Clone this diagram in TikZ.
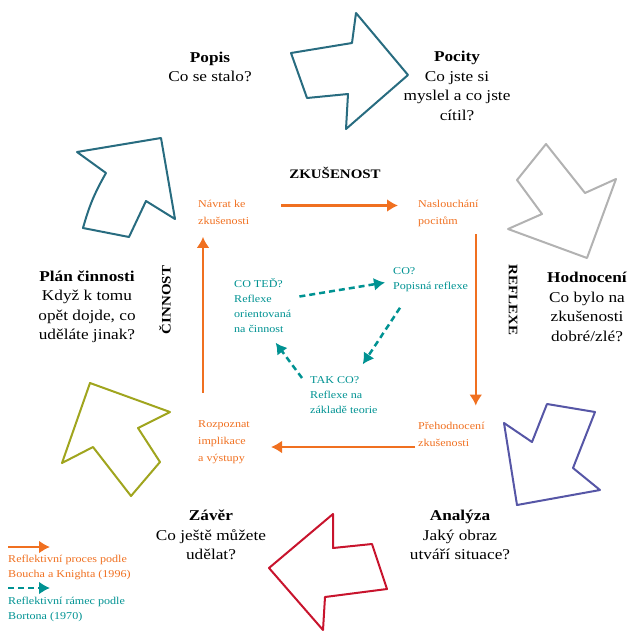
\documentclass[tikz,border=0pt]{standalone}
\usepackage{fontspec}
\setmainfont{Liberation Serif}[FakeStretch=1.15]
\newfontfamily\smallfont{Liberation Serif}[FakeStretch=1.15]
\usetikzlibrary{arrows.meta, calc, positioning}

\definecolor{procorange}{RGB}{240,112,32}
\definecolor{frameteal}{RGB}{0,146,146}
\definecolor{cycleteal}{RGB}{40,108,128}
\definecolor{cyclegray}{RGB}{178,178,178}
\definecolor{cyclepurple}{RGB}{86,86,166}
\definecolor{cyclered}{RGB}{200,20,45}
\definecolor{cycleolive}{RGB}{160,165,30}

\begin{document}
\begin{tikzpicture}[x=1pt, y=-1pt, >={Latex[length=11pt,width=13pt]},
    stage/.style={align=center, inner sep=0pt, font=\fontsize{15}{19.5}\selectfont},
    phase/.style={inner sep=0pt, font=\fontsize{13}{15}\selectfont\bfseries},
    proctext/.style={align=left, anchor=west, inner sep=0pt, text=procorange, font=\smallfont\fontsize{10.5}{17}\selectfont},
    frametext/.style={align=left, anchor=west, inner sep=0pt, text=frameteal, font=\smallfont\fontsize{10.5}{15}\selectfont},
    proc/.style={->, draw=procorange, line width=2.5pt},
    framearr/.style={->, draw=frameteal, line width=2.5pt, dash pattern=on 6pt off 4pt},
    bigarrow/.style={line width=2pt, line join=round}]
    \useasboundingbox (0,0) rectangle (631,630);

    % the six big outline arrows
    \draw[bigarrow, cycleteal] (356,13) -- (408,75) -- (346,129) -- (348,94) -- (307,98) -- (291,53) -- (352,43) -- cycle;
    \draw[bigarrow, cyclegray] (546,144) -- (585,193) -- (616,179) -- (587,258) -- (508,229) -- (542,214) -- (517,180) -- cycle;
    \draw[bigarrow, cyclepurple] (547,404) -- (595,412) -- (573,468) -- (600,490) -- (517,505) -- (504,423) -- (532,442) -- cycle;
    \draw[bigarrow, cyclered] (333,514) -- (333,548) -- (372,544) -- (387,589) -- (325,597) -- (323,630) -- (269,568) -- cycle;
    \draw[bigarrow, cycleolive] (90,383) -- (170,412) -- (138,428) -- (160,462) -- (131,496) -- (93,447) -- (62,463) -- cycle;
    \draw[bigarrow, cycleteal] (77,152) -- (161,138) -- (175,219) -- (146,201) -- (129,237) -- (83,228) to[bend left=7] (106,173) -- cycle;

    % stages of the cycle
    \node[stage] (popis) at (210,67) {\textbf{Popis}\\Co se stalo?};
    \node[stage] (pocity) at (457,86) {\textbf{Pocity}\\Co jste si\\myslel a co jste\\cítil?};
    \node[stage] (hodnoceni) at (587,307) {\textbf{Hodnocení}\\Co bylo na\\zkušenosti\\dobré/zlé?};
    \node[stage] (analyza) at (460,535) {\textbf{Analýza}\\Jaký obraz\\utváří situace?};
    \node[stage] (zaver) at (211,535) {\textbf{Závěr}\\Co ještě můžete\\udělat?};
    \node[stage] (plan) at (87,307) {\textbf{Plán činnosti}\\Když k tomu\\opět dojde, co\\uděláte jinak?};

    \node[phase] (zkusenost) at (335,173) {ZKUŠENOST};
    \node[phase, rotate=-90] (reflexe) at (513,300) {REFLEXE};
    \node[phase, rotate=90] (cinnost) at (165,300) {ČINNOST};

    % Boud & Knights
    \node[proctext] (navrat) at (198,212.5) {Návrat ke\\zkušenosti};
    \node[proctext] (naslouch) at (418,213) {Naslouchání\\pocitům};
    \node[proctext] (prehodn) at (418,434) {Přehodnocení\\zkušenosti};
    \node[proctext] (rozpoznat) at (198,442.5) {Rozpoznat\\implikace\\a výstupy};

    \draw[proc] ([shift={(32pt,7pt)}]navrat.east) -- ([shift={(-20pt,7pt)}]navrat.east -| naslouch.west);
    \draw[proc] ([shift={(-3pt,-8pt)}]naslouch.south east) -- ([shift={(-3pt,16pt)}]naslouch.south east |- prehodn.north);
    \draw[proc] ([shift={(-3pt,-13pt)}]prehodn.west) -- ([shift={(21pt,-13pt)}]prehodn.west -| rozpoznat.east);
    \draw[proc] ([shift={(5pt,28pt)}]rozpoznat.north west) -- ([shift={(5pt,-12pt)}]navrat.south west);

    % Borton
    \node[frametext] (coted) at (234,305.5) {CO TEĎ?\\Reflexe\\orientovaná\\na činnost};
    \node[frametext] (co) at (393,279.5) {CO?\\Popisná reflexe};
    \node[frametext] (takco) at (310,395) {TAK CO?\\Reflexe na\\základě teorie};

    \draw[framearr] ([shift={(8pt,9pt)}]coted.east) -- ([shift={(-8pt,-3pt)}]co.west);
    \draw[framearr] ([shift={(7pt,-16pt)}]co.south west) -- ([shift={(-15pt,12pt)}]takco.north east);
    \draw[framearr] ([shift={(-8pt,17pt)}]takco.west) -- ([shift={(13pt,-10pt)}]coted.south);

    % legend
    \node[proctext, font=\smallfont\fontsize{10.5}{15}\selectfont] (legproc) at (8,567.5) {Reflektivní proces podle\\Boucha a Knighta (1996)};
    \node[frametext] (legframe) at (8,609) {Reflektivní rámec podle\\Bortona (1970)};
    \coordinate (legprocend) at (50,547);
    \coordinate (legframeend) at (50,588);
    \draw[proc] (legproc.west |- legprocend) -- (legprocend);
    \draw[framearr] (legframe.west |- legframeend) -- (legframeend);
\end{tikzpicture}
\end{document}
